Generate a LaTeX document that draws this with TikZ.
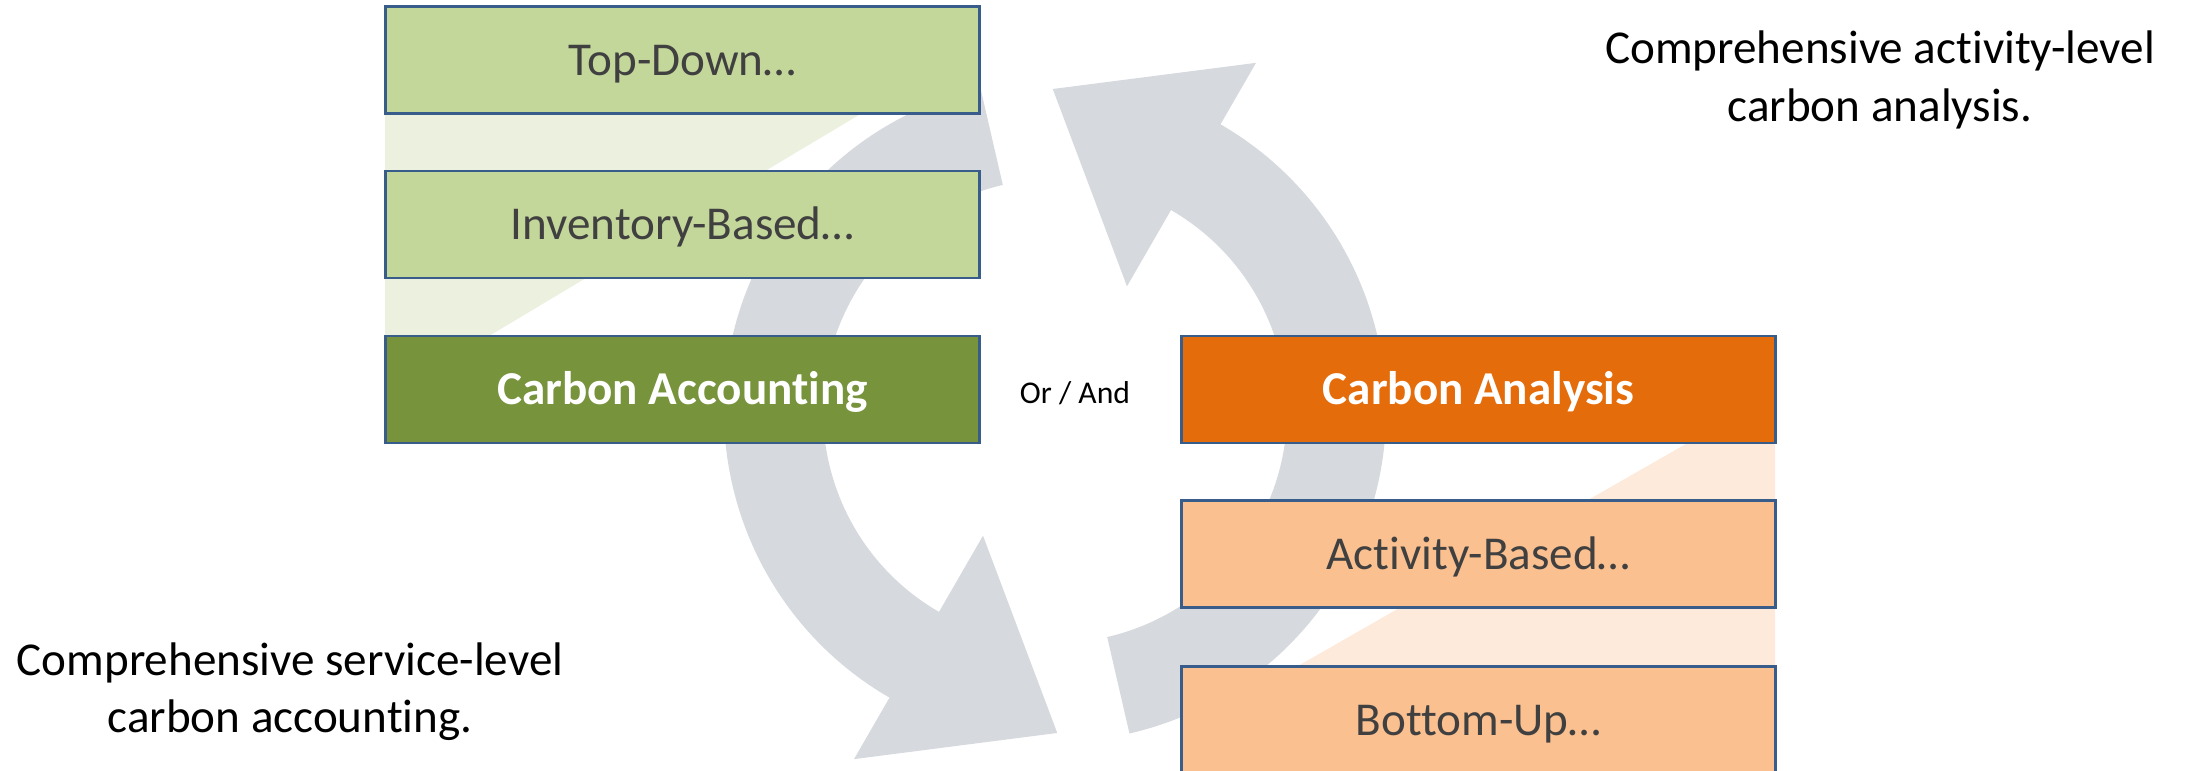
\documentclass[tikz,border=0pt]{standalone}
\usepackage{fontspec}
\setmainfont{Carlito}[Ligatures=NoCommon]
\usepackage{tikz}
\usetikzlibrary{positioning}
\usepackage{xcolor}

\definecolor{boxline}{RGB}{56,93,138}
\definecolor{leafgreen}{RGB}{196,215,155}
\definecolor{olivegreen}{RGB}{119,147,60}
\definecolor{palegreen}{RGB}{235,241,222}
\definecolor{burntorange}{RGB}{228,108,10}
\definecolor{peach}{RGB}{250,192,144}
\definecolor{paleorange}{RGB}{253,234,218}
\definecolor{cyclegray}{RGB}{214,217,221}
\definecolor{labelgray}{RGB}{64,64,64}

\begin{document}
\begin{tikzpicture}[x=0.01cm,y=-0.01cm,
    every node/.style={font=\fontsize{13.4}{16.3}\selectfont},
    box/.style={draw=boxline,line width=0.8pt,minimum width=5.93cm,
                minimum height=1.07cm,inner sep=0pt,
                text height=0.86em,text depth=0em},
    lightbox/.style={box,text=labelgray},
    mainbox/.style={box,text=white,font=\fontsize{13.4}{16.3}\selectfont\bfseries}]
    \useasboundingbox (0,0) rectangle (2187,771);
    % ------------------------------------------------------------------
    %                          BACKGROUND
    % ------------------------------------------------------------------
    % pale wedges behind the box stacks
    \fill[palegreen]  (385,60) -- (951,60) -- (489,336) -- (385,336) -- cycle;
    \fill[paleorange] (1775,393) -- (1775,666) -- (1298,666) -- cycle;

    % the two circular arrows round (1055,411)
    \begin{scope}[shift={(1055,411)},x=0.01cm,y=0.01cm]
      % right arrow, up to the top
      \fill[cyclegray] (-77:331) arc[start angle=-77,end angle=60,radius=331]
        -- (60:402) -- (90.4:322) -- (60:144) -- (60:232)
        arc[start angle=60,end angle=-77,radius=232] -- cycle;
      % left arrow, down to the bottom
      \fill[cyclegray] (103:331) arc[start angle=103,end angle=240,radius=331]
        -- (240:402) -- (270.4:322) -- (240:144) -- (240:232)
        arc[start angle=240,end angle=103,radius=232] -- cycle;
    \end{scope}

    % ------------------------------------------------------------------
    %                             NODES
    % ------------------------------------------------------------------
    % accounting stack
    \node[lightbox,fill=leafgreen]   (topdown)    at (682.5,60)    {Top-Down…};
    \node[lightbox,fill=leafgreen]   (inventory)  at (682.5,224.5) {Inventory-Based…};
    \node[mainbox,fill=olivegreen]   (accounting) at (682.5,389.5) {Carbon Accounting};
    % analysis stack
    \node[mainbox,fill=burntorange]  (analysis)   at (1478.5,389.5) {Carbon Analysis};
    \node[lightbox,fill=peach]       (activity)   at (1478.5,554)   {Activity-Based…};
    \node[lightbox,fill=peach]       (bottomup)   at (1478.5,720)   {Bottom-Up…};
    % in between
    \node[font=\fontsize{9}{11}\selectfont] (orand) at (1075,393) {Or / And};
    % notes
    \node[align=center] (activitynote) at (1880,80)
      {Comprehensive activity-level\\carbon analysis.};
    \node[align=center] (servicenote)  at (290,692)
      {Comprehensive service-level\\carbon accounting.};
\end{tikzpicture}
\end{document}
